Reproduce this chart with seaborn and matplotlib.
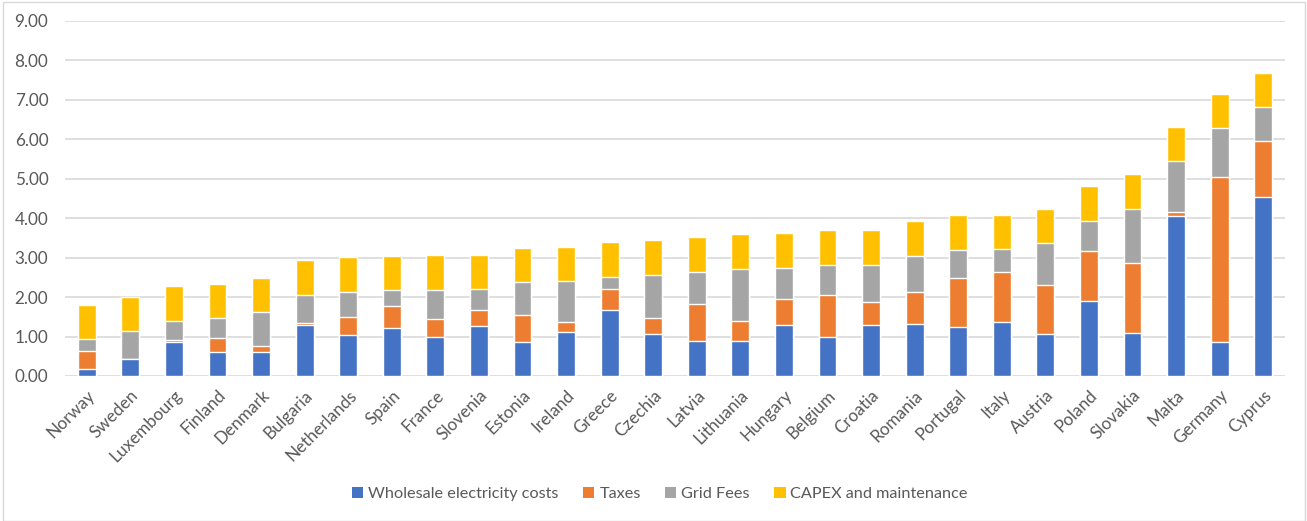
import matplotlib
matplotlib.use("Agg")
import matplotlib.pyplot as plt
from matplotlib.patches import Rectangle, Patch
import numpy as np
import seaborn as sns

countries = ["Norway", "Sweden", "Luxembourg", "Finland", "Denmark", "Bulgaria",
             "Netherlands", "Spain", "France", "Slovenia", "Estonia", "Ireland",
             "Greece", "Czechia", "Latvia", "Lithuania", "Hungary", "Belgium",
             "Croatia", "Romania", "Portugal", "Italy", "Austria", "Poland",
             "Slovakia", "Malta", "Germany", "Cyprus"]

wholesale = [0.17, 0.43, 0.86, 0.60, 0.60, 1.29, 1.03, 1.22, 0.98, 1.27, 0.86, 1.12,
             1.66, 1.06, 0.89, 0.89, 1.29, 0.98, 1.29, 1.32, 1.24, 1.37, 1.06, 1.89,
             1.08, 4.05, 0.86, 4.53]
taxes = [0.46, 0.01, 0.05, 0.36, 0.17, 0.05, 0.46, 0.56, 0.46, 0.40, 0.68, 0.25,
         0.54, 0.40, 0.94, 0.50, 0.65, 1.06, 0.59, 0.81, 1.25, 1.27, 1.24, 1.27,
         1.77, 0.10, 4.17, 1.43]
grid_fees = [0.30, 0.69, 0.48, 0.50, 0.84, 0.71, 0.64, 0.39, 0.73, 0.53, 0.84, 1.03,
             0.32, 1.10, 0.81, 1.32, 0.80, 0.77, 0.93, 0.91, 0.71, 0.57, 1.06, 0.76,
             1.39, 1.29, 1.25, 0.86]
capex = [0.86, 0.88, 0.88, 0.88, 0.88, 0.89, 0.88, 0.86, 0.89, 0.86, 0.87, 0.88,
         0.88, 0.89, 0.88, 0.88, 0.88, 0.88, 0.88, 0.88, 0.87, 0.88, 0.88, 0.89,
         0.88, 0.86, 0.87, 0.86]

series_names = ["Wholesale electricity costs", "Taxes", "Grid Fees", "CAPEX and maintenance"]
series_colors = ["#4472C4", "#ED7D31", "#A5A5A5", "#FFC000"]
yticks = [0, 1, 2, 3, 4, 5, 6, 7, 8, 9]

sns.set_theme(style="white")
plt.rcParams["font.family"] = ["Lato", "DejaVu Sans"]

fig = plt.figure(figsize=(13.07, 5.21), dpi=100)
ax = fig.add_axes([65 / 1307, 145 / 521, 1220 / 1307, 355.3 / 521])

# stacked bars: draw cumulative totals from the top layer down
layers = np.array([wholesale, taxes, grid_fees, capex])
cumulative = np.cumsum(layers, axis=0)
for i in range(3, -1, -1):
    sns.barplot(x=countries, y=cumulative[i], order=countries, color=series_colors[i],
                width=0.41, saturation=1, ax=ax, zorder=3)

ax.set_xlim(-0.5, len(countries) - 0.5)
ax.set_ylim(0, 9)
ax.set_yticks(yticks)
ax.set_yticklabels([f"{v:.2f}" for v in yticks], color="#595959", fontsize=12.3)
ax.yaxis.grid(True, color="#D9D9D9", linewidth=1.2, zorder=0)
ax.set_axisbelow(True)
for s in ax.spines.values():
    s.set_visible(False)
ax.tick_params(axis="y", length=0, pad=12)
ax.tick_params(axis="x", length=0, pad=8)
ax.set_xticks(range(len(countries)))
ax.set_xticklabels(countries, rotation=45, ha="right", va="top",
                   rotation_mode="anchor", color="#595959", fontsize=12.3)
ax.set_xlabel("")
ax.set_ylabel("")

handles = [Patch(facecolor=c, edgecolor="none") for c in series_colors]
fig.legend(handles, series_names, loc="center", bbox_to_anchor=(660 / 1307, 1 - 494 / 521),
           ncol=4, frameon=False, fontsize=11.7, handlelength=0.7, handleheight=0.7,
           handletextpad=0.3, columnspacing=1.5, labelcolor="#595959")

# light chart border
fig.patches.append(Rectangle((3 / 1307, 0.5 / 521), 1302 / 1307, 519 / 521,
                             transform=fig.transFigure, fill=False,
                             edgecolor="#D9D9D9", linewidth=1))

fig.savefig("out.png", dpi=100)
